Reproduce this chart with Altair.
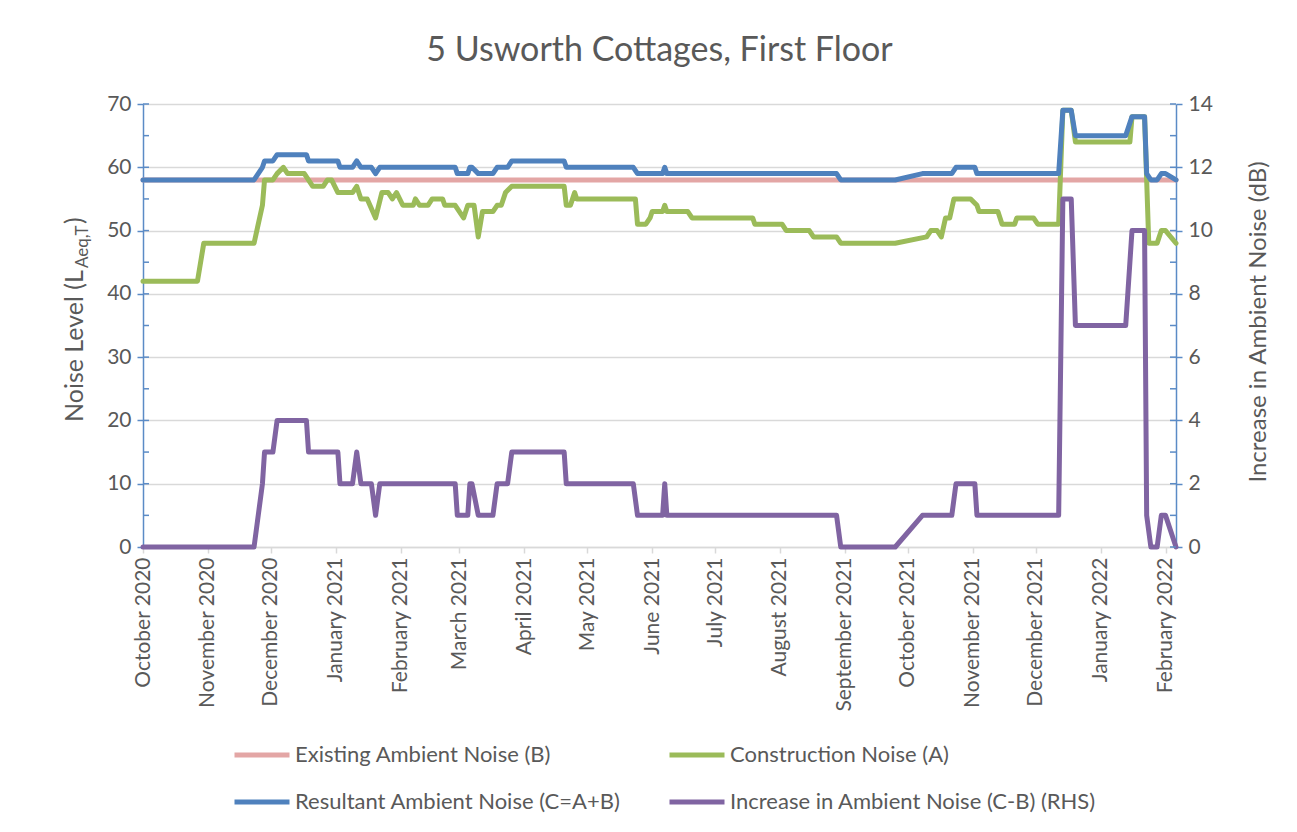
import altair as alt
import pandas as pd

# ---------------- data ----------------
b_dates = ["2020-10-01", "2022-02-06"]
b_values = [58, 58]

a_dates = ["2020-10-01", "2020-10-27", "2020-10-30", "2020-11-23", "2020-11-27", "2020-11-28",
           "2020-12-02", "2020-12-04", "2020-12-07", "2020-12-09", "2020-12-17", "2020-12-21",
           "2020-12-26", "2020-12-28", "2020-12-30", "2021-01-02", "2021-01-09", "2021-01-11",
           "2021-01-13", "2021-01-16", "2021-01-20", "2021-01-23", "2021-01-26", "2021-01-28",
           "2021-01-30", "2021-02-02", "2021-02-07", "2021-02-08", "2021-02-10", "2021-02-14",
           "2021-02-16", "2021-02-21", "2021-02-22", "2021-02-27", "2021-03-01", "2021-03-03",
           "2021-03-05", "2021-03-08", "2021-03-10", "2021-03-12", "2021-03-17", "2021-03-19",
           "2021-03-21", "2021-03-23", "2021-03-26", "2021-04-20", "2021-04-21", "2021-04-23",
           "2021-04-25", "2021-04-26", "2021-05-24", "2021-05-25", "2021-05-29", "2021-05-31",
           "2021-06-01", "2021-06-06", "2021-06-07", "2021-06-08", "2021-06-18", "2021-06-20",
           "2021-07-19", "2021-07-20", "2021-08-02", "2021-08-04", "2021-08-15", "2021-08-17",
           "2021-08-28", "2021-08-30", "2021-09-25", "2021-10-10", "2021-10-12", "2021-10-15",
           "2021-10-17", "2021-10-19", "2021-10-21", "2021-10-23", "2021-10-31", "2021-11-03",
           "2021-11-04", "2021-11-13", "2021-11-15", "2021-11-21", "2021-11-22", "2021-11-30",
           "2021-12-02", "2021-12-12", "2021-12-14", "2021-12-18", "2021-12-20", "2022-01-15",
           "2022-01-16", "2022-01-22", "2022-01-24", "2022-01-28", "2022-01-30", "2022-02-01",
           "2022-02-06"]
a_values = [42, 42, 48, 48, 54, 58,
            58, 59, 60, 59, 59, 57,
            57, 58, 58, 56, 56, 57,
            55, 55, 52, 56, 56, 55,
            56, 54, 54, 55, 54, 54,
            55, 55, 54, 54, 53, 52,
            54, 54, 49, 53, 53, 54,
            54, 56, 57, 57, 54, 54,
            56, 55, 55, 51, 51, 52,
            53, 53, 54, 53, 53, 52,
            52, 51, 51, 50, 50, 49,
            49, 48, 48, 49, 50, 50,
            49, 52, 52, 55, 55, 54,
            53, 53, 51, 51, 52, 52,
            51, 51, 69, 69, 64, 64,
            68, 68, 48, 48, 50, 50,
            48]

c_dates = ["2020-10-01", "2020-11-23", "2020-11-27", "2020-11-28", "2020-12-02", "2020-12-04",
           "2020-12-18", "2020-12-19", "2021-01-02", "2021-01-03", "2021-01-09", "2021-01-11",
           "2021-01-13", "2021-01-18", "2021-01-20", "2021-01-22", "2021-02-27", "2021-02-28",
           "2021-03-05", "2021-03-06", "2021-03-07", "2021-03-10", "2021-03-17", "2021-03-19",
           "2021-03-24", "2021-03-26", "2021-04-20", "2021-04-21", "2021-05-23", "2021-05-25",
           "2021-06-06", "2021-06-07", "2021-06-08", "2021-08-28", "2021-08-30", "2021-09-25",
           "2021-10-08", "2021-10-22", "2021-10-24", "2021-11-02", "2021-11-03", "2021-12-12",
           "2021-12-14", "2021-12-18", "2021-12-20", "2022-01-13", "2022-01-16", "2022-01-22",
           "2022-01-23", "2022-01-25", "2022-01-28", "2022-01-30", "2022-02-01", "2022-02-06"]
c_values = [58, 58, 60, 61, 61, 62,
            62, 61, 61, 60, 60, 61,
            60, 60, 59, 60, 60, 59,
            59, 60, 60, 59, 59, 60,
            60, 61, 61, 60, 60, 59,
            59, 60, 59, 59, 58, 58,
            59, 59, 60, 60, 59, 59,
            69, 69, 65, 65, 68, 68,
            59, 58, 58, 59, 59, 58]

d_dates = ["2020-10-01", "2020-11-23", "2020-11-27", "2020-11-28", "2020-12-02", "2020-12-04",
           "2020-12-18", "2020-12-19", "2021-01-02", "2021-01-03", "2021-01-09", "2021-01-11",
           "2021-01-13", "2021-01-18", "2021-01-20", "2021-01-22", "2021-02-27", "2021-02-28",
           "2021-03-05", "2021-03-06", "2021-03-07", "2021-03-10", "2021-03-17", "2021-03-19",
           "2021-03-24", "2021-03-26", "2021-04-20", "2021-04-21", "2021-05-23", "2021-05-25",
           "2021-06-06", "2021-06-07", "2021-06-08", "2021-08-28", "2021-08-30", "2021-09-25",
           "2021-10-08", "2021-10-22", "2021-10-24", "2021-11-02", "2021-11-03", "2021-12-12",
           "2021-12-14", "2021-12-18", "2021-12-20", "2022-01-13", "2022-01-16", "2022-01-22",
           "2022-01-23", "2022-01-25", "2022-01-28", "2022-01-30", "2022-02-01", "2022-02-06"]
d_values = [0, 0, 2, 3, 3, 4,
            4, 3, 3, 2, 2, 3,
            2, 2, 1, 2, 2, 1,
            1, 2, 2, 1, 1, 2,
            2, 3, 3, 2, 2, 1,
            1, 2, 1, 1, 0, 0,
            1, 1, 2, 2, 1, 1,
            11, 11, 7, 7, 10, 10,
            1, 0, 0, 1, 1, 0]

series_names = ["Existing Ambient Noise (B)", "Construction Noise (A)",
                "Resultant Ambient Noise (C=A+B)", "Increase in Ambient Noise (C-B) (RHS)"]
series_colors = ["#e3a6a5", "#9bbb59", "#4f81bd", "#8064a2"]

month_ticks = [(2020, 10), (2020, 11), (2020, 12), (2021, 1), (2021, 2), (2021, 3), (2021, 4),
               (2021, 5), (2021, 6), (2021, 7), (2021, 8), (2021, 9), (2021, 10), (2021, 11),
               (2021, 12), (2022, 1), (2022, 2)]
left_ticks = list(range(0, 71, 10))
left_minor = list(range(0, 71, 5))
right_ticks = list(range(0, 15, 2))
right_minor = list(range(0, 15, 1))

title_text = "5 Usworth Cottages, First Floor"
left_title_main = "Noise Level (L"
left_title_sub = "Aeq,T"
left_title_end = ")"
right_title = "Increase in Ambient Noise (dB)"

# ---------------- build tables ----------------
def frame(dates, values, name):
    return pd.DataFrame({"date": dates, "value": values, "series": name})

df_b = frame(b_dates, b_values, series_names[0])
df_a = frame(a_dates, a_values, series_names[1])
df_c = frame(c_dates, c_values, series_names[2])
df_d = frame(d_dates, d_values, series_names[3])

W, H = 1033, 443
FONT = "Lato"
GREY = "#595959"
AXBLUE = "#5b8bc6"

x_axis = alt.Axis(
    values=[alt.DateTime(year=y, month=m, date=1, utc=True) for y, m in month_ticks],
    labelExpr="utcFormat(datum.value, '%B %Y')",
    labelAngle=-90, labelFont=FONT, labelFontSize=21, labelColor=GREY, labelPadding=4,
    domainColor="#d9d9d9", domainWidth=1.5, tickColor="#d9d9d9", tickSize=6, tickWidth=1.5,
    grid=False, title=None, labelOverlap=False,
)
x_enc = alt.X(
    "date:T",
    scale=alt.Scale(type="utc", domain=[alt.DateTime(year=2020, month=10, date=1, utc=True),
                                        alt.DateTime(year=2022, month=2, date=6, utc=True)]),
    axis=x_axis,
)

left_axis = alt.Axis(
    orient="left", values=left_ticks, title=None, labelFont=FONT, labelFontSize=21,
    labelColor=GREY, labelPadding=6, domainColor=AXBLUE, domainWidth=1.5, tickColor=AXBLUE,
    tickSize=6, tickWidth=1.5, grid=True, gridColor="#d9d9d9", gridWidth=1.5,
)
right_axis = alt.Axis(
    orient="right", values=right_ticks, title=None, labelFont=FONT, labelFontSize=21,
    labelColor=GREY, labelPadding=6, domainColor=AXBLUE, domainWidth=1.5, tickColor=AXBLUE,
    tickSize=6, tickWidth=1.5, grid=False,
)
left_scale = alt.Scale(domain=[0, 70], nice=False)
right_scale = alt.Scale(domain=[0, 14], nice=False)

legend = alt.Legend(
    orient="none", legendX=89, legendY=621, columns=2, direction="horizontal", title=None,
    symbolType="stroke", symbolSize=3025, symbolStrokeWidth=5, labelFont=FONT,
    labelFontSize=22, labelColor=GREY, labelOffset=3, columnPadding=38, rowPadding=6,
    labelLimit=600, padding=0,
)
color_enc = alt.Color("series:N", scale=alt.Scale(domain=series_names, range=series_colors),
                      legend=legend)

def series_layer(df, y_scale, y_axis):
    return alt.Chart(df).mark_line(strokeWidth=5, strokeCap="round", strokeJoin="round").encode(
        x=x_enc,
        y=alt.Y("value:Q", scale=y_scale, axis=y_axis),
        color=color_enc,
    )

left_minor_ticks = alt.Chart(pd.DataFrame({"value": left_minor})).mark_rule(
    color=AXBLUE, strokeWidth=1.5).encode(
    y=alt.Y("value:Q", scale=left_scale, axis=left_axis),
    x=alt.value(0), x2=alt.value(6))

right_minor_ticks = alt.Chart(pd.DataFrame({"value": right_minor})).mark_rule(
    color=AXBLUE, strokeWidth=1.5).encode(
    y=alt.Y("value:Q", scale=right_scale, axis=right_axis),
    x=alt.value(W - 6), x2=alt.value(W))

left = alt.layer(
    series_layer(df_b, left_scale, left_axis),
    series_layer(df_a, left_scale, left_axis),
    series_layer(df_c, left_scale, left_axis),
    left_minor_ticks,
)
right = alt.layer(
    series_layer(df_d, right_scale, right_axis),
    right_minor_ticks,
)

def text_layer(txt, x, y, size, angle=0, align="center"):
    params = dict(font=FONT, fontSize=size, color=GREY, align=align, baseline="alphabetic")
    if angle:
        params["angle"] = angle
    return alt.Chart(pd.DataFrame({"t": [txt]})).mark_text(**params).encode(
        text="t:N", x=alt.value(x), y=alt.value(y))

texts = alt.layer(
    text_layer(title_text, W / 2, -43, 34),
    text_layer(left_title_main, -60, 318, 25, angle=270, align="left"),
    text_layer(left_title_sub, -55, 164, 17, angle=270, align="left"),
    text_layer(left_title_end, -60, 120, 25, angle=270, align="left"),
    text_layer(right_title, 1123, 218, 24, angle=270, align="center"),
)

chart = alt.layer(left, right, texts).resolve_scale(y="independent").properties(
    width=W, height=H,
    padding={"left": 135, "top": 96, "right": 110, "bottom": 270},
    autosize=alt.AutoSizeParams(type="none"),
).configure_view(stroke=None)

chart.save("out.html", embed_options={"renderer": "svg", "actions": False})
